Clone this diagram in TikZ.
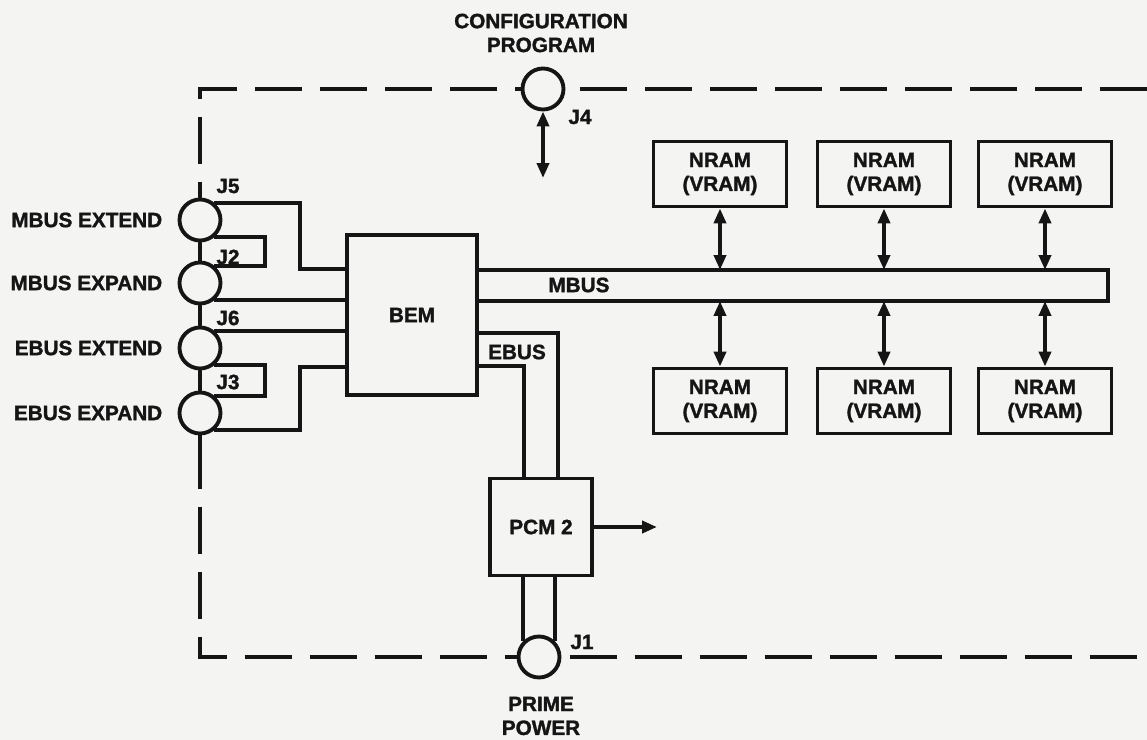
\documentclass[tikz,border=0pt]{standalone}
\usepackage{fontspec}
\setmainfont{Liberation Sans}[BoldFeatures={FakeBold=1.5}]
\usetikzlibrary{positioning, arrows.meta}
\definecolor{paper}{HTML}{F4F4F2}
\definecolor{ink}{HTML}{151515}

\tikzset{
  wire/.style={draw=ink, line width=2.2pt},
  border/.style={draw=ink, line width=2.2pt, dash pattern=on 0.94cm off 0.36cm},
  box/.style={draw=ink, line width=2.2pt, fill=paper, inner sep=0pt, text=ink, align=center},
  ram/.style={box, minimum width=2.66cm, minimum height=1.3cm},
  jack/.style={draw=ink, circle, line width=2.2pt, fill=paper, minimum size=0.82cm, inner sep=0pt},
  txt/.style={text=ink, inner sep=0pt, align=center},
  dbl/.style={wire, {Triangle[length=0.3cm,width=0.24cm]}-{Triangle[length=0.3cm,width=0.24cm]}},
  sgl/.style={wire, -{Triangle[length=0.3cm,width=0.24cm]}},
}

\begin{document}
\begin{tikzpicture}[x=0.02cm, y=-0.02cm, font=\bfseries\fontsize{11.8}{13.6}\selectfont]
    \fill[paper] (0,0) rectangle (1147,740);
    \useasboundingbox (0,0) rectangle (1147,740);

    % cadre du tiroir
    \draw[border] (1147,89) -- (200,89) -- (200,657) -- (1147,657);
    \draw[wire] (200,188) -- (200,442);

    % connecteurs
    \node[jack] (jfour)  at (543,89)  {};
    \node[jack] (jone)   at (539,657) {};
    \node[jack] (jfive)  at (200,220) {};
    \node[jack] (jtwo)   at (200,283) {};
    \node[jack] (jsix)   at (200,348) {};
    \node[jack] (jthree) at (200,413) {};

    \node[txt, left=0.3cm of jfive]  (lmbext) {MBUS EXTEND};
    \node[txt, left=0.3cm of jtwo]   (lmbexp) {MBUS EXPAND};
    \node[txt, left=0.3cm of jsix]   (lebext) {EBUS EXTEND};
    \node[txt, left=0.3cm of jthree] (lebexp) {EBUS EXPAND};

    \node[txt] (tfive)  at (228,186) {J5};
    \node[txt] (ttwo)   at (228,257) {J2};
    \node[txt] (tsix)   at (228,318) {J6};
    \node[txt] (tthree) at (228,382) {J3};
    \node[txt] (tfour)  at (580,117) {J4};
    \node[txt] (tone)   at (582,642) {J1};

    \node[txt] (config) at (541,33)  {CONFIGURATION\\PROGRAM};
    \node[txt] (prime)  at (541,716) {PRIME\\POWER};

    % modules
    \node[box, minimum width=2.6cm, minimum height=3.2cm] (bem) at (412,315) {BEM};
    \node[box, minimum width=2.04cm, minimum height=1.94cm] (pcm) at (541,527) {PCM 2};

    % cablage vers le BEM
    \draw[wire] (jfive.50) -| (300,269) -- (bem.west |- 0,269);
    \draw[wire] (jfive.-50) -| (265,250) |- (jtwo.50);
    \draw[wire] (jtwo.-50) -- (jtwo.-50 -| bem.west);
    \draw[wire] (jsix.50) -- (jsix.50 -| bem.west);
    \draw[wire] (jsix.-50) -| (265,380) |- (jthree.50);
    \draw[wire] (jthree.-50) -| (300,367) -- (bem.west |- 0,367);

    % bus
    \coordinate (bustop) at (0,270);
    \coordinate (busbot) at (0,301);
    \draw[wire] (bem.east |- bustop) -- (1108,270) -- (1108,301) -- (bem.east |- busbot);
    \node[txt] (mbus) at (579,285) {MBUS};

    \draw[wire] (bem.east |- 0,333) -| (558,0 |- pcm.north);
    \draw[wire] (bem.east |- 0,366) -| (524,0 |- pcm.north);
    \node[txt] (ebus) at (517,352) {EBUS};

    \foreach \n/\x in {a/720, b/884, c/1045} {
      \node[ram] (top\n) at (\x,174) {NRAM\\(VRAM)};
      \node[ram] (bot\n) at (\x,401) {NRAM\\(VRAM)};
      \draw[dbl] (top\n.south) -- (top\n.south |- bustop);
      \draw[dbl] (bot\n.north |- busbot) -- (bot\n.north);
    }

    % alimentation
    \draw[wire] (jone.135) -- (jone.135 |- pcm.south);
    \draw[wire] (jone.45) -- (jone.45 |- pcm.south);
    \coordinate (pwrout) at (657,527);
    \draw[sgl] (pcm.east) -- (pwrout);

    \coordinate (cfgend) at (543,178);
    \draw[dbl] (jfour.south) -- (cfgend);
  \end{tikzpicture}
\end{document}
